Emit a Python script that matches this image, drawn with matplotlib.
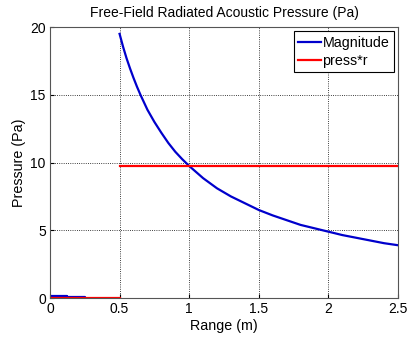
import matplotlib
matplotlib.use("Agg")
import matplotlib.pyplot as plt

plt.rcParams['font.family'] = ['Liberation Sans', 'DejaVu Sans']

# magnitude
r_mag = [0.5, 0.525, 0.55, 0.575, 0.6, 0.625, 0.65, 0.675, 0.7, 0.75, 0.8, 0.85, 0.9, 0.95,
         1.0, 1.05, 1.1, 1.2, 1.3, 1.4, 1.5, 1.6, 1.7, 1.8, 1.9, 2.0, 2.1, 2.2, 2.3, 2.4, 2.5]
p_mag = [19.5, 18.55, 17.7, 16.95, 16.25, 15.6, 15.0, 14.45, 13.9, 13.0, 12.2, 11.45, 10.8, 10.25,
         9.75, 9.3, 8.85, 8.1, 7.5, 7.0, 6.5, 6.1, 5.75, 5.4, 5.15, 4.9, 4.65, 4.45, 4.25, 4.05, 3.9]

# small values near the origin
r_near = [0.0, 0.12, 0.12, 0.25, 0.25]
p_near = [0.15, 0.15, 0.07, 0.07, 0.0]

# press*r
r_pr = [0.0, 0.5, 0.5, 2.5]
p_pr = [0.0, 0.0, 9.75, 9.75]

fig = plt.figure(figsize=(4.08, 3.43), dpi=100)
ax = fig.add_axes([0.1225, 0.131, 0.853, 0.79])

ax.plot(r_mag, p_mag, color='#0000cc', lw=1.6, label='Magnitude')
ax.plot(r_near, p_near, color='#0000cc', lw=1.6)
ax.plot(r_pr[:2], p_pr[:2], color='red', lw=1.6, label='press*r')
ax.plot(r_pr[2:], p_pr[2:], color='red', lw=1.6)

ax.set_xlim(0, 2.5)
ax.set_ylim(0, 20)
ax.set_xticks([0, 0.5, 1, 1.5, 2, 2.5])
ax.set_xticklabels(['0', '0.5', '1', '1.5', '2', '2.5'])
ax.set_yticks([0, 5, 10, 15, 20])
ax.grid(True, color='black', linestyle=':', linewidth=0.6)
ax.tick_params(direction='in', labelsize=10, length=3, pad=3)
for s in ax.spines.values():
    s.set_color('#555555')

ax.set_title('Free-Field Radiated Acoustic Pressure (Pa)', fontsize=10, pad=7)
ax.set_xlabel('Range (m)', fontsize=10.3, labelpad=2)
ax.set_ylabel('Pressure (Pa)', fontsize=10.3, labelpad=3)

handles, labels = ax.get_legend_handles_labels()
leg = ax.legend(handles, labels, loc='upper right', fontsize=10.3, fancybox=False,
                framealpha=1, edgecolor='black', borderaxespad=0.3, handlelength=1.6,
                handletextpad=0.1, borderpad=0.3, labelspacing=0.3)
leg.get_frame().set_linewidth(0.8)

fig.savefig('out.png', dpi=100)
